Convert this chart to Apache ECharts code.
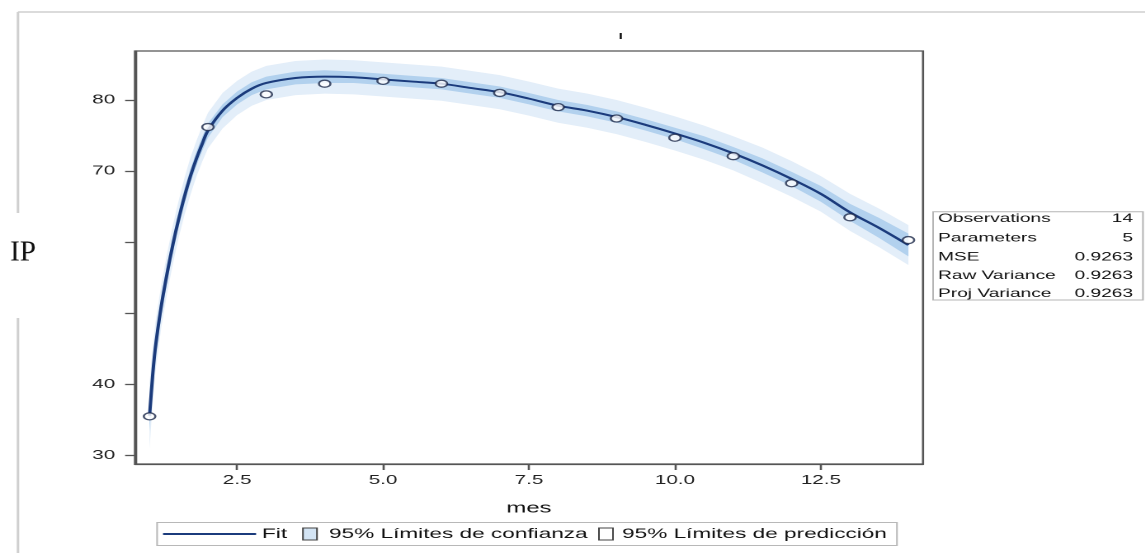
<!DOCTYPE html>
<html><head><meta charset="utf-8">
<script src="https://cdn.jsdelivr.net/npm/echarts@6/dist/echarts.min.js"></script>
<style>
html,body{margin:0;padding:0;background:#fff;overflow:hidden;}
#wrap{width:1145px;height:553px;overflow:hidden;position:relative;background:#fff;}
#chart{width:694px;height:553px;transform:scaleX(1.65);transform-origin:0 0;}
</style></head><body><div id="wrap"><div id="chart"></div></div>
<script>
const SX = 1.65;
// observed points
const meses = [1,2,3,4,5,6,7,8,9,10,11,12,13,14];
const ipObs = [35.5,76.2,80.8,82.3,82.7,82.3,81.0,79.0,77.4,74.7,72.1,68.3,63.5,60.3];
// fitted curve and bands
const fitX = [1,1.05,1.1,1.2,1.3,1.4,1.5,1.6,1.7,1.8,1.9,2.0,2.25,2.5,2.75,3.0,3.5,4.0,4.5,5.0,5.5,6.0,6.5,7.0,7.5,8.0,8.5,9.0,9.5,10.0,10.5,11.0,11.5,12.0,12.5,13.0,13.5,14.0];
const fitY = [35.6,41.0,45.2,51.0,55.6,59.7,63.3,66.5,69.3,71.7,73.8,75.7,78.5,80.3,81.6,82.4,83.1,83.3,83.2,82.9,82.6,82.3,81.7,81.1,80.2,79.2,78.5,77.6,76.5,75.3,74.0,72.5,70.8,68.9,66.8,64.2,62.0,59.6];
const confLo = [33.4,39.2,43.6,49.6,54.3,58.5,62.2,65.4,68.3,70.7,72.8,74.7,77.6,79.4,80.7,81.5,82.2,82.4,82.4,82.1,81.8,81.5,80.9,80.3,79.4,78.4,77.7,76.8,75.7,74.5,73.1,71.6,69.8,67.9,65.7,63.0,60.6,58.0];
const confHi = [37.8,42.8,46.8,52.4,56.9,60.9,64.4,67.6,70.3,72.7,74.8,76.7,79.4,81.2,82.5,83.3,84.0,84.2,84.0,83.7,83.4,83.1,82.5,81.9,81.0,80.0,79.3,78.4,77.3,76.1,74.9,73.4,71.8,69.9,67.9,65.4,63.4,61.2];
const predLo = [31.0,37.0,41.7,48.0,52.8,57.0,60.7,63.9,66.7,69.2,71.3,73.2,76.0,77.9,79.2,80.0,80.7,80.9,80.8,80.5,80.2,79.9,79.3,78.7,77.8,76.8,76.1,75.2,74.1,72.9,71.6,70.1,68.3,66.4,64.3,61.6,59.3,56.8];
const predHi = [40.2,45.0,48.7,54.0,58.4,62.4,65.9,69.1,71.9,74.2,76.3,78.2,81.0,82.7,84.0,84.8,85.5,85.7,85.6,85.3,85.0,84.7,84.1,83.5,82.6,81.6,80.9,80.0,78.9,77.7,76.4,74.9,73.3,71.4,69.3,66.8,64.7,62.4];
// axes
const xTicks = [2.5,5,7.5,10,12.5];
const yTicks = [30,40,50,60,70,80];
const yLabels = [30,40,70,80];
// fit statistics
const statNames = ['Observations','Parameters','MSE','Raw Variance','Proj Variance'];
const statValues = ['14','5','0.9263','0.9263','0.9263'];
const legendNames = ['Fit','95% Límites de confianza','95% Límites de predicción'];

const FONT = 'Liberation Sans, Arial, sans-serif';
const C_FIT = '#1b3b7c', C_CONF = '#b2d1ee', C_PRED = '#e3eef9';

function band(name, lo, hi, color, z) {
  return {
    type: 'custom', name: name, coordinateSystem: 'cartesian2d', silent: true, z: z,
    data: fitX.map((x, i) => [x, lo[i], hi[i]]),
    encode: { x: 0, y: [1, 2] },
    renderItem: function (params, api) {
      if (params.dataIndex !== 0) return null;
      const up = fitX.map((x, i) => api.coord([x, hi[i]]));
      const dn = fitX.map((x, i) => api.coord([x, lo[i]])).reverse();
      return { type: 'polygon', shape: { points: up.concat(dn) }, style: { fill: color } };
    }
  };
}

const chart = echarts.init(document.getElementById('chart'), null, { devicePixelRatio: 2 });

const statsY = [219, 238.3, 257.3, 275.7, 294];
const LF = '13.7px ' + FONT;
const graphics = [
  { type: 'line', shape: { x1: 10.9, y1: 12, x2: 694, y2: 12 }, style: { stroke: '#cfcfcf', lineWidth: 1.5 } },
  { type: 'line', shape: { x1: 10.9, y1: 12, x2: 10.9, y2: 213 }, style: { stroke: '#cfcfcf', lineWidth: 1.5 } },
  { type: 'line', shape: { x1: 10.9, y1: 318, x2: 10.9, y2: 553 }, style: { stroke: '#cfcfcf', lineWidth: 1.5 } },
  { type: 'text', x: 6.1, y: 253, scaleX: 1 / SX, style: { text: 'IP', font: '29px "Liberation Serif", "Times New Roman", serif', fill: '#111', verticalAlign: 'middle' } },
  { type: 'line', shape: { x1: 376.2, y1: 33, x2: 376.2, y2: 39 }, style: { stroke: '#111', lineWidth: 1.3 } },
  { type: 'rect', shape: { x: 565.5, y: 211.7, width: 127.2, height: 88.3 }, style: { fill: '#fff', stroke: '#b5b5b5', lineWidth: 1 } },
  // legend
  { type: 'rect', shape: { x: 95.2, y: 522.5, width: 448.4, height: 23 }, style: { fill: '#fff', stroke: '#b8b8b8', lineWidth: 1 } },
  { type: 'line', shape: { x1: 98.8, y1: 534, x2: 155.2, y2: 534 }, style: { stroke: C_FIT, lineWidth: 2 } },
  { type: 'text', x: 158.8, y: 534, style: { text: legendNames[0], font: LF, fill: '#111', verticalAlign: 'middle' } },
  { type: 'rect', shape: { x: 183.6, y: 528, width: 8.5, height: 12 }, style: { fill: '#d3e4f4', stroke: '#444', lineWidth: 1 } },
  { type: 'text', x: 199.4, y: 534, style: { text: legendNames[1], font: LF, fill: '#111', verticalAlign: 'middle' } },
  { type: 'rect', shape: { x: 363, y: 528, width: 8.5, height: 12 }, style: { fill: '#fff', stroke: '#444', lineWidth: 1 } },
  { type: 'text', x: 377, y: 534, style: { text: legendNames[2], font: LF, fill: '#111', verticalAlign: 'middle' } }
];
statNames.forEach((n, i) => {
  graphics.push({ type: 'text', x: 568.5, y: statsY[i], style: { text: n, font: '11.6px ' + FONT, fill: '#111', verticalAlign: 'middle' } });
  graphics.push({ type: 'text', x: 686.7, y: statsY[i], style: { text: statValues[i], font: '11.6px ' + FONT, fill: '#111', align: 'right', verticalAlign: 'middle' } });
});

chart.setOption({
  animation: false,
  backgroundColor: '#fff',
  grid: { left: 81.8, top: 51, width: 477.6, height: 413, show: true, borderColor: '#555', borderWidth: 1.3, backgroundColor: 'transparent' },
  xAxis: {
    type: 'value', min: 0.75, max: 14.25,
    name: 'mes', nameLocation: 'middle', nameGap: 37,
    nameTextStyle: { fontFamily: FONT, fontSize: 14.5, color: '#111' },
    axisLine: { show: true, lineStyle: { color: '#555', width: 1.3 } },
    axisTick: { show: true, length: 6, customValues: xTicks, lineStyle: { color: '#555', width: 1.3 } },
    axisLabel: { customValues: xTicks, margin: 10, fontFamily: FONT, fontSize: 12.5, color: '#222', formatter: v => Number(v).toFixed(1) },
    splitLine: { show: false }
  },
  yAxis: {
    type: 'value', min: 28.8, max: 86.9,
    axisLine: { show: true, lineStyle: { color: '#555', width: 1.3 } },
    axisTick: { show: true, length: 6, customValues: yTicks, lineStyle: { color: '#555', width: 1.3 } },
    axisLabel: { customValues: yLabels, margin: 12, fontFamily: FONT, fontSize: 12.5, color: '#222' },
    splitLine: { show: false }
  },
  graphic: graphics,
  series: [
    band(legendNames[2], predLo, predHi, C_PRED, 1),
    band(legendNames[1], confLo, confHi, C_CONF, 2),
    {
      type: 'line', name: legendNames[0], z: 3, silent: true,
      data: fitX.map((x, i) => [x, fitY[i]]),
      smooth: 0.35, showSymbol: false,
      lineStyle: { color: C_FIT, width: 2 }
    },
    {
      type: 'scatter', name: 'IP', z: 5, silent: true,
      data: meses.map((m, i) => [m, ipObs[i]]),
      symbol: 'circle', symbolSize: 7,
      itemStyle: { color: '#fff', borderColor: '#1c2848', borderWidth: 1.3 }
    }
  ]
});
</script></body></html>
